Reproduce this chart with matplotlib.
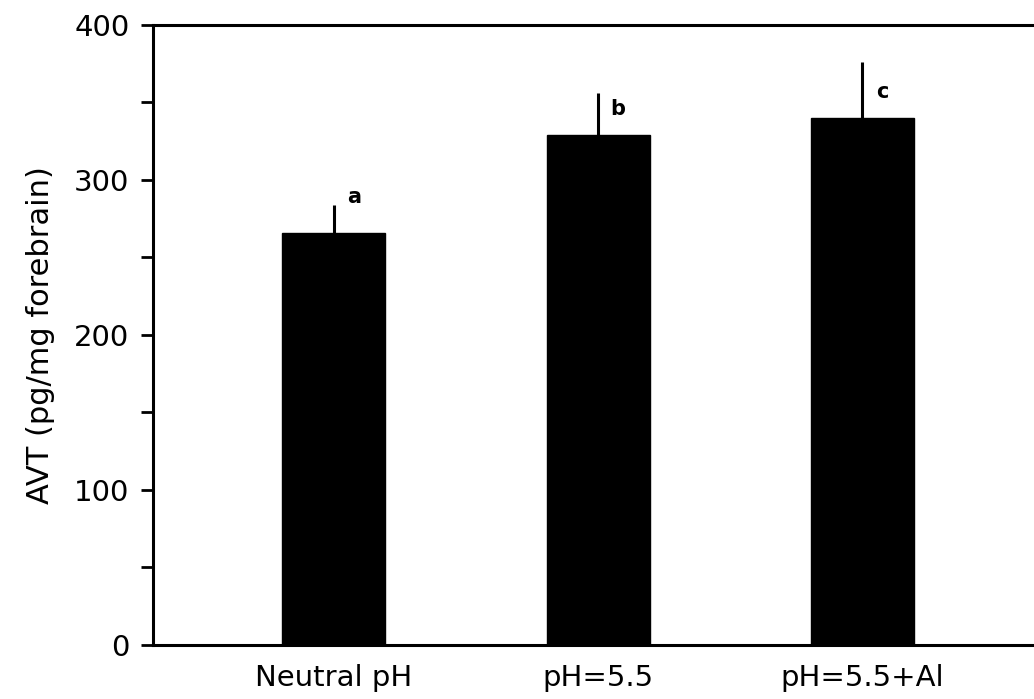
import numpy as np
import matplotlib
matplotlib.use('Agg')
import matplotlib.pyplot as plt
from matplotlib.ticker import MultipleLocator

groups = ['Neutral pH', 'pH=5.5', 'pH=5.5+Al']
avt_mean = [266, 329, 340]
avt_err = [18, 27, 36]
letters = ['a', 'b', 'c']
letter_y = [289, 346, 357]

plt.rcParams['font.family'] = 'DejaVu Sans'

fig = plt.figure(figsize=(10.34, 6.99), dpi=100)
ax = fig.add_axes([0.148, 0.0773, 0.852, 0.887])

x = np.arange(len(groups))
ax.bar(x, avt_mean, width=0.39, color='black', edgecolor='black')
# one-sided error bars, no caps
ax.errorbar(x, avt_mean, yerr=[np.zeros(len(x)), avt_err], fmt='none',
            ecolor='black', elinewidth=2.2, capsize=0)

for i, (lab, ly) in enumerate(zip(letters, letter_y)):
    ax.text(i + 0.075, ly, lab, fontsize=15, fontweight='bold',
            ha='center', va='center')

ax.set_xlim(-0.685, 2.65)
ax.set_ylim(0, 400)
ax.set_xticks(x)
ax.set_xticklabels(groups, fontsize=21)
ax.yaxis.set_major_locator(MultipleLocator(100))
ax.yaxis.set_minor_locator(MultipleLocator(50))
ax.tick_params(axis='y', which='both', direction='out', length=9, width=2,
               labelsize=21, pad=8)
ax.tick_params(axis='x', length=0, pad=14)
ax.set_ylabel('AVT (pg/mg forebrain)', fontsize=22, labelpad=14)

ax.spines['right'].set_visible(False)
for s in ['left', 'top', 'bottom']:
    ax.spines[s].set_linewidth(2.2)

fig.savefig('out.png', dpi=100)
